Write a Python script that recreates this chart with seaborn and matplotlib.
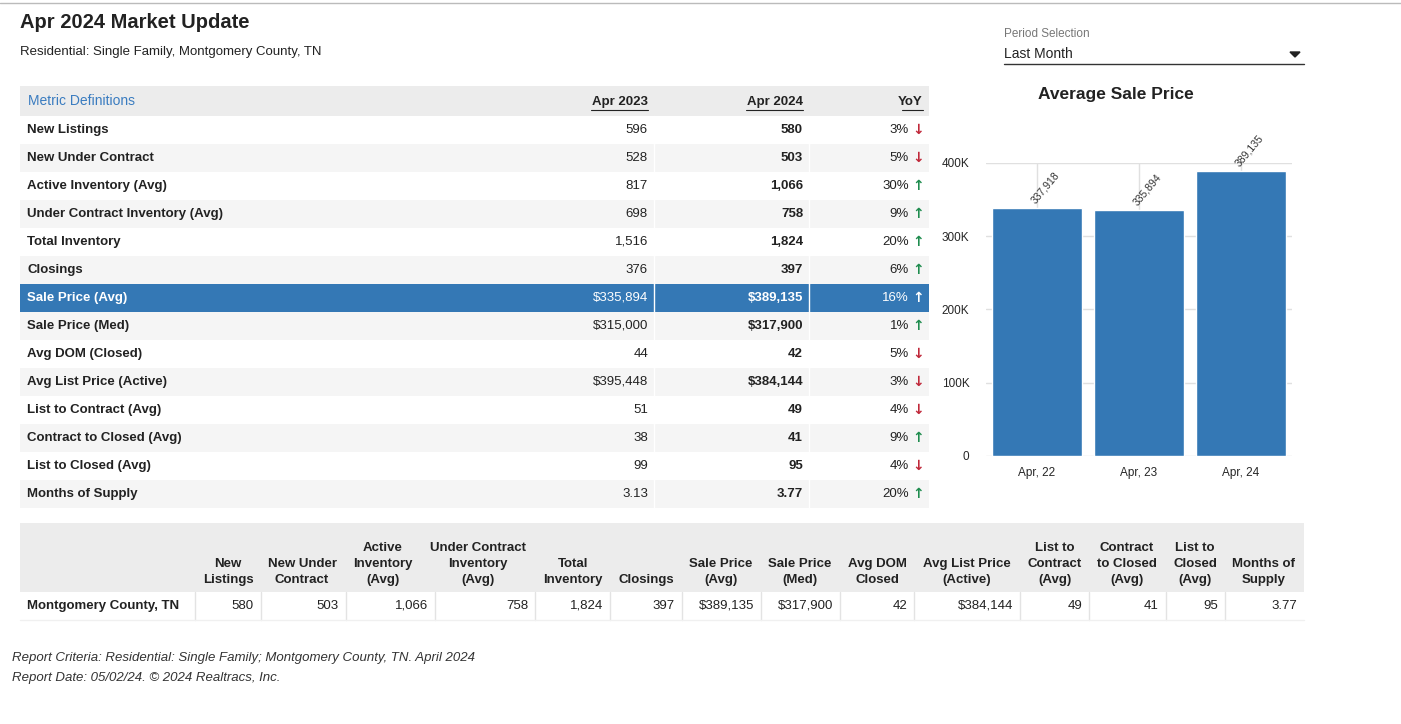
import matplotlib
matplotlib.use("Agg")
import matplotlib.pyplot as plt
import seaborn as sns
import pandas as pd
from matplotlib.patches import Rectangle

sns.set_style("white")
plt.rcParams["font.family"] = ["Liberation Sans", "DejaVu Sans"]

W, H = 1401, 724
BLUE = "#3478b5"
RED = "#c0283a"
GREEN = "#1e8c4e"

# --- DATA ---
metrics = [
    ("New Listings", "596", "580", "3%", "down"),
    ("New Under Contract", "528", "503", "5%", "down"),
    ("Active Inventory (Avg)", "817", "1,066", "30%", "up"),
    ("Under Contract Inventory (Avg)", "698", "758", "9%", "up"),
    ("Total Inventory", "1,516", "1,824", "20%", "up"),
    ("Closings", "376", "397", "6%", "up"),
    ("Sale Price (Avg)", "$335,894", "$389,135", "16%", "up"),
    ("Sale Price (Med)", "$315,000", "$317,900", "1%", "up"),
    ("Avg DOM (Closed)", "44", "42", "5%", "down"),
    ("Avg List Price (Active)", "$395,448", "$384,144", "3%", "down"),
    ("List to Contract (Avg)", "51", "49", "4%", "down"),
    ("Contract to Closed (Avg)", "38", "41", "9%", "up"),
    ("List to Closed (Avg)", "99", "95", "4%", "down"),
    ("Months of Supply", "3.13", "3.77", "20%", "up"),
]

avg_price = pd.DataFrame({
    "Period": ["Apr, 22", "Apr, 23", "Apr, 24"],
    "Price": [337918, 335894, 389135],
})

summary_cols = [
    ("New\nListings", "580", 228, 255),
    ("New Under\nContract", "503", 302, 340),
    ("Active\nInventory\n(Avg)", "1,066", 383, 429),
    ("Under Contract\nInventory\n(Avg)", "758", 478, 529),
    ("Total\nInventory", "1,824", 573, 604),
    ("Closings", "397", 646, 676),
    ("Sale Price\n(Avg)", "$389,135", 721, 755),
    ("Sale Price\n(Med)", "$317,900", 800, 834),
    ("Avg DOM\nClosed", "42", 877, 908),
    ("Avg List Price\n(Active)", "$384,144", 967, 1014),
    ("List to\nContract\n(Avg)", "49", 1055, 1083),
    ("Contract\nto Closed\n(Avg)", "41", 1127, 1160),
    ("List to\nClosed\n(Avg)", "95", 1195, 1219),
    ("Months of\nSupply", "3.77", 1264, 1298),
]

fig = plt.figure(figsize=(W / 100, H / 100), dpi=100)
bg = fig.add_axes([0, 0, 1, 1])
bg.set_xlim(0, W)
bg.set_ylim(H, 0)
bg.axis("off")

# top border line
bg.plot([0, W], [3, 3], color="#bbbbbb", lw=1)

bg.text(20, 23, "Apr 2024 Market Update", fontsize=14.5, fontweight="bold", va="center", color="#222222")
bg.text(20, 52, "Residential: Single Family, Montgomery County, TN", fontsize=9.5, va="center", color="#222222")

# period selection
bg.text(1004, 34, "Period Selection", fontsize=8.5, va="center", color="#777777")
bg.text(1004, 54, "Last Month", fontsize=10, va="center", color="#222222")
bg.plot([1004, 1304], [64, 64], color="#333333", lw=1)
bg.fill([1290, 1300, 1295], [52, 52, 57], color="#222222")

# --- METRIC TABLE ---
bg.add_patch(Rectangle((20, 86), 909, 30, color="#ececec", lw=0))
bg.text(28, 101, "Metric Definitions", fontsize=10, va="center", color="#3a7cc0")
for txt, x in [("Apr 2023", 648), ("Apr 2024", 803), ("YoY", 923)]:
    bg.text(x, 102, txt, fontsize=9.5, fontweight="bold", va="center", ha="right", color="#222222")
    bg.plot([x - len(txt) * 7.3 + 1, x], [110, 110], color="#222222", lw=0.8)

for i, (name, v23, v24, yoy, d) in enumerate(metrics):
    y0 = 116 + i * 28
    yc = y0 + 14
    hl = name == "Sale Price (Avg)"
    if hl:
        bg.add_patch(Rectangle((20, y0), 909, 28, color=BLUE, lw=0))
    elif i % 2 == 1:
        bg.add_patch(Rectangle((20, y0), 909, 28, color="#f5f5f5", lw=0))
    bg.plot([654, 654], [y0, y0 + 28], color="white", lw=1)
    bg.plot([809, 809], [y0, y0 + 28], color="white", lw=1)
    fc = "white" if hl else "#222222"
    bg.text(27, yc, name, fontsize=9.5, fontweight="bold", va="center", color=fc)
    bg.text(648, yc, v23, fontsize=9.5, va="center", ha="right", color=fc)
    bg.text(803, yc, v24, fontsize=9.5, fontweight="bold", va="center", ha="right", color=fc)
    bg.text(909, yc, yoy, fontsize=9.5, va="center", ha="right", color=fc)
    ac = "white" if hl else (GREEN if d == "up" else RED)
    bg.text(918, yc, "↑" if d == "up" else "↓", fontsize=10, fontweight="bold",
            va="center", ha="center", color=ac, family="DejaVu Sans")

# --- SUMMARY TABLE ---
bg.add_patch(Rectangle((20, 523), 1284, 69, color="#ececec", lw=0))
bg.text(27, 606, "Montgomery County, TN", fontsize=9.5, fontweight="bold", va="center", color="#222222")
prev = 195
for hdr, val, xc, xr in summary_cols:
    bg.text(xc, 586, hdr, fontsize=9.5, fontweight="bold", va="bottom", ha="center",
            multialignment="center", linespacing=1.45, color="#222222")
    bg.text(xr - 1, 606, val, fontsize=9.5, va="center", ha="right", color="#222222")
    bg.plot([prev, prev], [592, 620], color="#e3e3e3", lw=1)
    prev = xr + 6
bg.plot([20, 1304], [620, 620], color="#f0f0f0", lw=1)

bg.text(12, 658, "Report Criteria: Residential: Single Family; Montgomery County, TN. April 2024",
        fontsize=9.5, style="italic", va="center", color="#333333")
bg.text(12, 678, "Report Date: 05/02/24. © 2024 Realtracs, Inc.",
        fontsize=9.5, style="italic", va="center", color="#333333")

# --- BAR CHART ---
ax = fig.add_axes([986 / W, 1 - 456 / H, (1292 - 986) / W, (456 - 163) / H])
sns.barplot(data=avg_price, x="Period", y="Price", color=BLUE, saturation=1, width=0.89, ax=ax, zorder=2)
ax.set_xlim(-0.5, 2.5)
ax.set_ylim(0, 400000)
ax.set_yticks([0, 100000, 200000, 300000, 400000])
ax.set_yticklabels(["0", "100K", "200K", "300K", "400K"], fontsize=8.5)
ax.tick_params(axis="x", labelsize=8.5, length=0, pad=8)
ax.tick_params(axis="y", length=0, pad=12)
ax.set_xlabel("")
ax.set_ylabel("")
ax.grid(True, color="#e0e0e0", lw=1, zorder=0)
ax.set_axisbelow(True)
for s in ax.spines.values():
    s.set_visible(False)
for j, v in enumerate(avg_price["Price"]):
    ax.text(j, v + 4000, f"{v:,}", rotation=50, fontsize=7.5, ha="left", va="bottom",
            color="#333333", rotation_mode="anchor", clip_on=False)
fig.text(1116 / W, 1 - 95 / H, "Average Sale Price", fontsize=12.5, fontweight="bold",
         ha="center", va="center", color="#222222")

fig.savefig("out.png", dpi=100)
